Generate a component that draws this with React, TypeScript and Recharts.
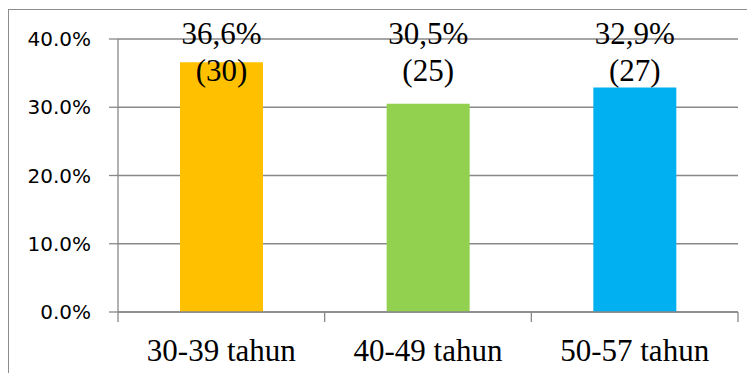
import React from 'react';
import { BarChart, Bar, XAxis, YAxis, CartesianGrid, LabelList, Cell } from 'recharts';

const categories = ['30-39 tahun', '40-49 tahun', '50-57 tahun'];
const percentages = [36.6, 30.5, 32.9];
const counts = [30, 25, 27];
const barColors = ['#FFC000', '#92D050', '#00B0F0'];
const yTicks = [0, 10, 20, 30, 40];

const data = categories.map((name, i) => ({ name, pct: percentages[i], count: counts[i] }));

const W = 747;
const H = 373;
const MARGIN = { top: 31, right: 17, bottom: 19, left: 10 };
const X_AXIS_H = 50;
const Y_AXIS_W = 100;
const GRID = '#888888';
const SERIF = 'Liberation Serif';
const SANS = 'DejaVu Sans';

const fmtPct = (v: number) => v.toFixed(1).replace('.', ',') + '%';

const CatTick = (props: any) => {
  const { x, y, payload, index } = props;
  const off = payload && payload.offset != null ? payload.offset : (W - MARGIN.left - MARGIN.right - Y_AXIS_W) / 6;
  const last = index === categories.length - 1;
  return (
    <g>
      <line x1={x - off} x2={x - off} y1={y} y2={y + 10} stroke={GRID} strokeWidth={1.3} />
      {last && <line x1={x + off} x2={x + off} y1={y} y2={y + 10} stroke={GRID} strokeWidth={1.3} />}
      <text x={x} y={y + 49} textAnchor="middle" style={{ fontFamily: SERIF, fontSize: 31 }} fill="#000">
        {payload.value}
      </text>
    </g>
  );
};

const DataLabel = (props: any) => {
  const { x, width, index } = props;
  const cx = Number(x) + Number(width) / 2;
  const top = MARGIN.top;
  return (
    <g>
      <text x={cx} y={top + 4.5} textAnchor="middle" style={{ fontFamily: SERIF, fontSize: 31 }} fill="#000">
        {fmtPct(percentages[index])}
      </text>
      <text x={cx} y={top + 41.5} textAnchor="middle" style={{ fontFamily: SERIF, fontSize: 31 }} fill="#000">
        {`(${counts[index]})`}
      </text>
    </g>
  );
};

export default function App() {
  return (
    <div style={{ position: 'relative', width: W, height: H, marginBottom: -8, overflow: 'hidden' }}>
      <div
        style={{
          position: 'absolute',
          left: 0,
          top: 1,
          width: W + 20,
          height: H + 20,
          borderTop: '1px solid #8c8c8c',
          borderLeft: '1px solid #8c8c8c',
          boxSizing: 'border-box',
        }}
      />
      <div style={{ position: 'absolute', left: 0, top: 0 }}>
        <BarChart width={W} height={H} data={data} margin={MARGIN} barCategoryGap="30%">
          <CartesianGrid vertical={false} stroke={GRID} strokeWidth={1.3} />
          <XAxis
            dataKey="name"
            height={X_AXIS_H}
            axisLine={{ stroke: GRID, strokeWidth: 1.3 }}
            tickLine={false}
            tickSize={0}
            tickMargin={0}
            interval={0}
            tick={(p: any) => <CatTick {...p} />}
          />
          <YAxis
            width={Y_AXIS_W}
            domain={[0, 40]}
            ticks={yTicks}
            interval={0}
            axisLine={{ stroke: GRID, strokeWidth: 1.3 }}
            tickLine={{ stroke: GRID, strokeWidth: 1.3 }}
            tickSize={9}
            tickMargin={18}
            tickFormatter={(v: number) => `${v.toFixed(1)}%`}
            tick={{ fontFamily: SANS, fontSize: 20, fill: '#000' }}
          />
          <Bar dataKey="pct" isAnimationActive={false}>
            {data.map((d, i) => (
              <Cell key={d.name} fill={barColors[i]} />
            ))}
            <LabelList dataKey="pct" content={(p: any) => <DataLabel {...p} />} />
          </Bar>
        </BarChart>
      </div>
    </div>
  );
}
